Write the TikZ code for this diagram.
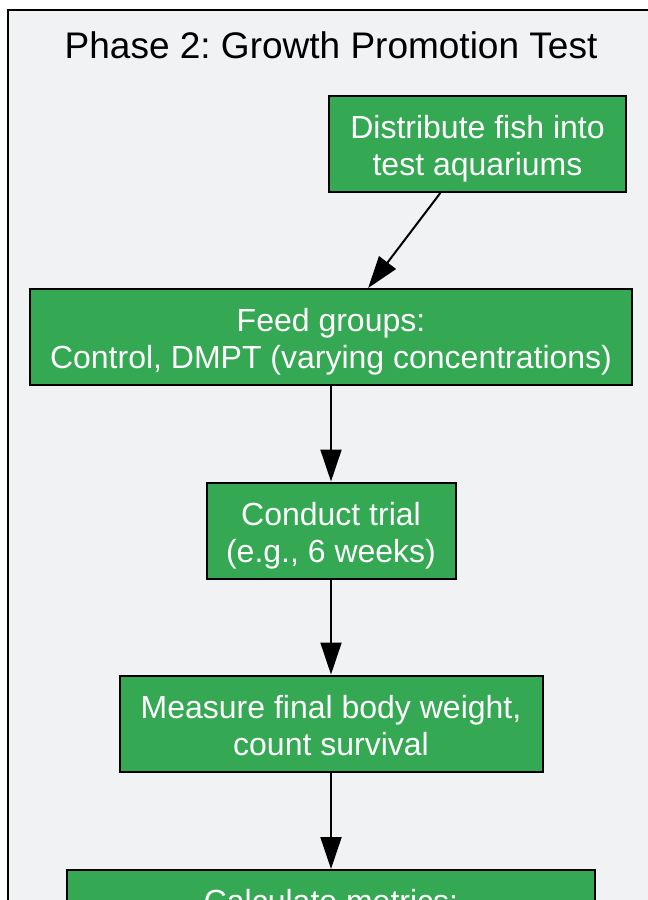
\documentclass[tikz,border=0pt]{standalone}
\usepackage{fontspec}
\setmainfont{Liberation Sans}
\usetikzlibrary{arrows.meta}
\definecolor{stepgreen}{HTML}{34A853}
\definecolor{phasebg}{HTML}{F1F2F4}
\frenchspacing

\begin{document}
\begin{tikzpicture}[
   x=0.5pt, y=-0.5pt,
   every node/.style={font=\fontsize{16}{18.5}\selectfont},
   stepbox/.style={draw, line width=1pt, fill=stepgreen, text=white,
                   align=center, minimum height=48pt, inner sep=0pt,
                   text height=31.5pt, text depth=0pt},
   flow/.style={draw, line width=1pt, -{Triangle[length=16pt,width=10.5pt]}}]

\useasboundingbox (0,0) rectangle (648,900);
\clip (0,0) rectangle (648,900);
\fill[white] (0,0) rectangle (648,900);

% phase cluster
\draw[line width=1pt, fill=phasebg] (8,10) rectangle (660,940);
\node[font=\fontsize{18.5}{22}\selectfont] (title) at (331,45) {Phase 2: Growth Promotion Test};

\node[stepbox, minimum width=148.5pt] (distribute) at (477.5,144) {Distribute fish into\\test aquariums};
\node[stepbox, minimum width=301pt] (feed) at (331,337) {Feed groups:\\Control, DMPT (varying concentrations)};
\node[stepbox, minimum width=124.5pt] (trial) at (331,530.5) {Conduct trial\\(e.g., 6 weeks)};
\node[stepbox, minimum width=211.5pt] (measure) at (331,723.5) {Measure final body weight,\\count survival};
\node[stepbox, minimum width=264pt, minimum height=0pt, inner ysep=9pt,
      text height=12pt, text depth=30pt, anchor=north] (metrics) at (331,869) {Calculate metrics:};

\draw[flow] (distribute) -- (feed);
\draw[flow] (feed) -- (trial);
\draw[flow] (trial) -- (measure);
\draw[flow] (measure) -- (metrics);

\end{tikzpicture}
\end{document}
